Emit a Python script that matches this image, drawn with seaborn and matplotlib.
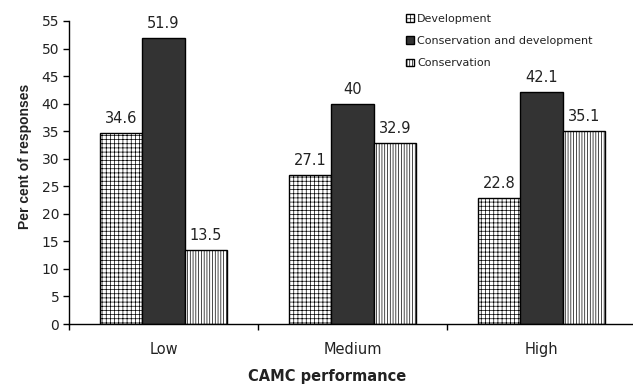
import matplotlib
matplotlib.use("Agg")
import pandas as pd
import matplotlib.pyplot as plt
import matplotlib.patches as mpatches
import seaborn as sns

categories = ["Low", "Medium", "High"]
opinions = ["Development", "Conservation and development", "Conservation"]
development = [34.6, 27.1, 22.8]
cons_and_dev = [51.9, 40, 42.1]
conservation = [13.5, 32.9, 35.1]

df = pd.DataFrame({
    "performance": categories * 3,
    "opinion": [opinions[0]] * 3 + [opinions[1]] * 3 + [opinions[2]] * 3,
    "value": development + cons_and_dev + conservation,
})

sns.set_style("ticks")
# wide DejaVu glyphs mimic the horizontally stretched Arial of the original
plt.rcParams["font.family"] = ["DejaVu Sans"]
plt.rcParams["hatch.linewidth"] = 0.5
txt = "#222222"

colors = ["white", "#333333", "white"]
hatches = ["++++", None, "||||||"]

fig = plt.figure(figsize=(6.33, 3.84), dpi=100)
ax = fig.add_axes([69 / 633, 60 / 384, 567 / 633, 303 / 384])

sns.barplot(data=df, x="performance", y="value", hue="opinion",
            order=categories, hue_order=opinions, palette=colors,
            width=0.67, gap=0, saturation=1, edgecolor="black",
            linewidth=1, legend=False, ax=ax)

for cont, h in zip(ax.containers, hatches):
    for bar in cont:
        if h:
            bar.set_hatch(h)
    ax.bar_label(cont, fmt="%g", padding=5, fontsize=10.5, color=txt)

ax.set_xlim(-0.5, 2.5)
ax.set_ylim(0, 55)
ax.set_yticks(range(0, 56, 5))
ax.set_xticks([0, 1, 2], categories)
ax.set_xticks([-0.5, 0.5, 1.5, 2.5], minor=True)
ax.tick_params(axis="x", which="major", length=0, pad=13, labelsize=10.5, labelcolor=txt)
ax.tick_params(axis="x", which="minor", length=4, width=1, color="black")
ax.tick_params(axis="y", length=4, width=1, pad=3, labelsize=10, color="black", labelcolor=txt)
ax.set_xlabel("")
ax.set_ylabel("")
for s in ["top", "right"]:
    ax.spines[s].set_visible(False)
for s in ["left", "bottom"]:
    ax.spines[s].set_color("black")
    ax.spines[s].set_linewidth(1)

fig.text(25 / 633, 1 - 156 / 384, "Per cent of responses", rotation=90,
         ha="center", va="center", fontsize=10, fontweight="bold",
         family="Liberation Sans", color=txt)
fig.text(327 / 633, 3 / 384, "CAMC performance", ha="center",
         va="baseline", fontsize=10.5, fontweight="bold", color=txt)

handles = [mpatches.Patch(facecolor=c, edgecolor="black", hatch=h, label=o)
           for c, h, o in zip(colors, hatches, opinions)]
leg = ax.legend(handles=handles, loc="upper left", bbox_to_anchor=(406 / 633, 1 - 14 / 384),
                bbox_transform=fig.transFigure, frameon=False, fontsize=8,
                handlelength=0.7, handleheight=0.7, handletextpad=0.3,
                labelspacing=1.1, borderpad=0, borderaxespad=0)
for t in leg.get_texts():
    t.set_color(txt)

fig.savefig("out.png", dpi=100)
